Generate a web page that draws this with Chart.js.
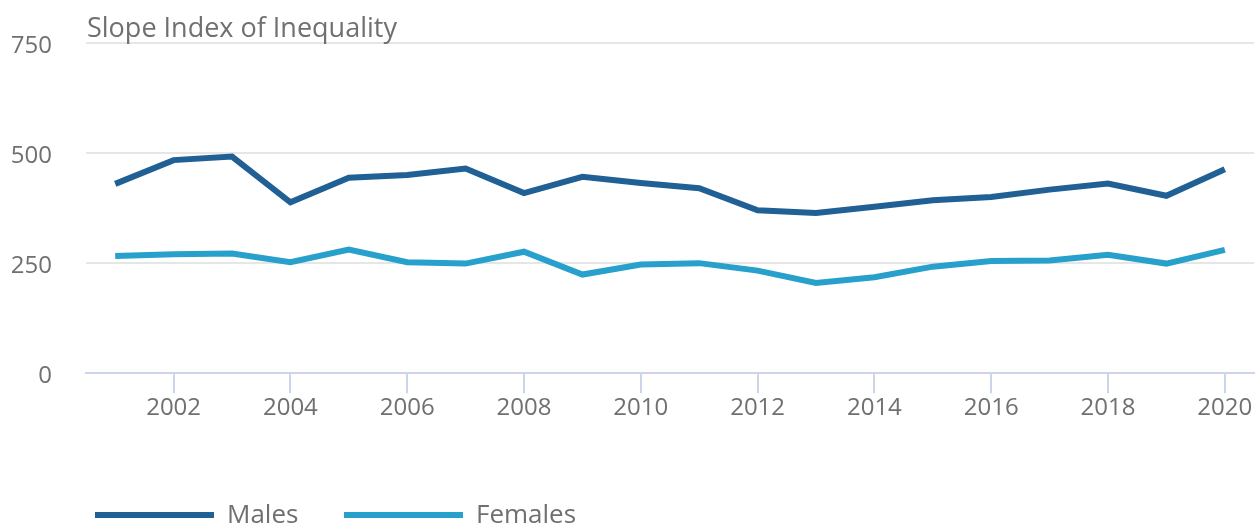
<!DOCTYPE html>
<html>
<head>
<meta charset="utf-8">
<script src="https://cdn.jsdelivr.net/npm/chart.js@4"></script>
<style>
  html, body { margin: 0; padding: 0; background: #fff; }
  #wrap { width: 1257px; height: 527px; }
</style>
</head>
<body>
<div id="wrap"><canvas id="myChart"></canvas></div>
<script>
var years = ["2001", "2002", "2003", "2004", "2005", "2006", "2007", "2008", "2009", "2010",
  "2011", "2012", "2013", "2014", "2015", "2016", "2017", "2018", "2019", "2020"];
var males = [430, 484, 492, 388, 444, 450, 465, 409, 446, 432, 420, 370, 364, 378, 393, 400, 417, 431, 403, 463];
var females = [266, 270, 272, 252, 281, 252, 249, 276, 224, 247, 250, 233, 205, 218, 242, 255, 256, 269, 249, 280];
var yTicks = [0, 250, 500, 750];
var seriesNames = ["Males", "Females"];
var lineColors = ["#206095", "#27a0cc"];
var axisTitle = "Slope Index of Inequality";

var textColor = "#707070";
var fontFamily = "'Open Sans', sans-serif";

// title above the plot and legend at the bottom, drawn by hand so they sit where the original has them
var decor = {
  id: "decor",
  afterDraw: function (chart) {
    var ctx = chart.ctx;
    var area = chart.chartArea;
    ctx.save();
    ctx.fillStyle = textColor;
    ctx.font = "27px " + fontFamily;
    ctx.textBaseline = "alphabetic";
    ctx.textAlign = "left";
    ctx.fillText(axisTitle, area.left + 1, area.top - 6);

    var legendX = [95, 344];
    var legendY = 515;
    chart.data.datasets.forEach(function (ds, i) {
      var x = legendX[i];
      ctx.fillStyle = ds.borderColor;
      ctx.fillRect(x, legendY - 3, 119, 6);
      ctx.fillStyle = textColor;
      ctx.font = "26px " + fontFamily;
      ctx.textBaseline = "middle";
      ctx.fillText(ds.label, x + 132, legendY + 1);
    });
    ctx.restore();
  }
};

new Chart("myChart", {
  type: "line",
  data: {
    labels: years,
    datasets: [
      {
        label: seriesNames[0],
        data: males,
        borderColor: lineColors[0],
        backgroundColor: lineColors[0],
        borderWidth: 6,
        pointRadius: 0,
        tension: 0,
      },
      {
        label: seriesNames[1],
        data: females,
        borderColor: lineColors[1],
        backgroundColor: lineColors[1],
        borderWidth: 6,
        pointRadius: 0,
        tension: 0,
      },
    ],
  },
  options: {
    responsive: true,
    maintainAspectRatio: false,
    animation: false,
    layout: {
      padding: { left: 12, right: 3, top: 43, bottom: 103 },
    },
    plugins: {
      legend: { display: false },
      title: { display: false },
      tooltip: { enabled: false },
    },
    scales: {
      x: {
        type: "category",
        offset: true,
        border: { display: true, color: "#ccd6eb", width: 2 },
        grid: {
          offset: false,
          drawOnChartArea: false,
          drawTicks: true,
          tickLength: 20,
          lineWidth: 2,
          color: function (c) {
            return Number(years[c.index]) % 2 === 0 ? "#ccd6eb" : "rgba(0,0,0,0)";
          },
        },
        ticks: {
          autoSkip: false,
          maxRotation: 0,
          color: textColor,
          padding: 1,
          font: { family: fontFamily, size: 24 },
          callback: function (v, i) {
            return Number(years[i]) % 2 === 0 ? years[i] : "";
          },
        },
      },
      y: {
        min: 0,
        max: 750,
        afterBuildTicks: function (scale) {
          scale.ticks = yTicks.map(function (v) { return { value: v }; });
        },
        afterFit: function (scale) {
          // keep the plot top where the original has it
          scale.width = 74;
          scale.paddingTop = 0;
          scale.paddingBottom = 0;
        },
        border: { display: false },
        grid: {
          drawTicks: false,
          lineWidth: 2,
          color: function (c) {
            return c.tick && c.tick.value === 0 ? "rgba(0,0,0,0)" : "#e6e6e6";
          },
        },
        ticks: {
          color: textColor,
          padding: 34,
          labelOffset: 3,
          font: { family: fontFamily, size: 24 },
        },
      },
    },
  },
  plugins: [decor],
});
</script>
</body>
</html>
